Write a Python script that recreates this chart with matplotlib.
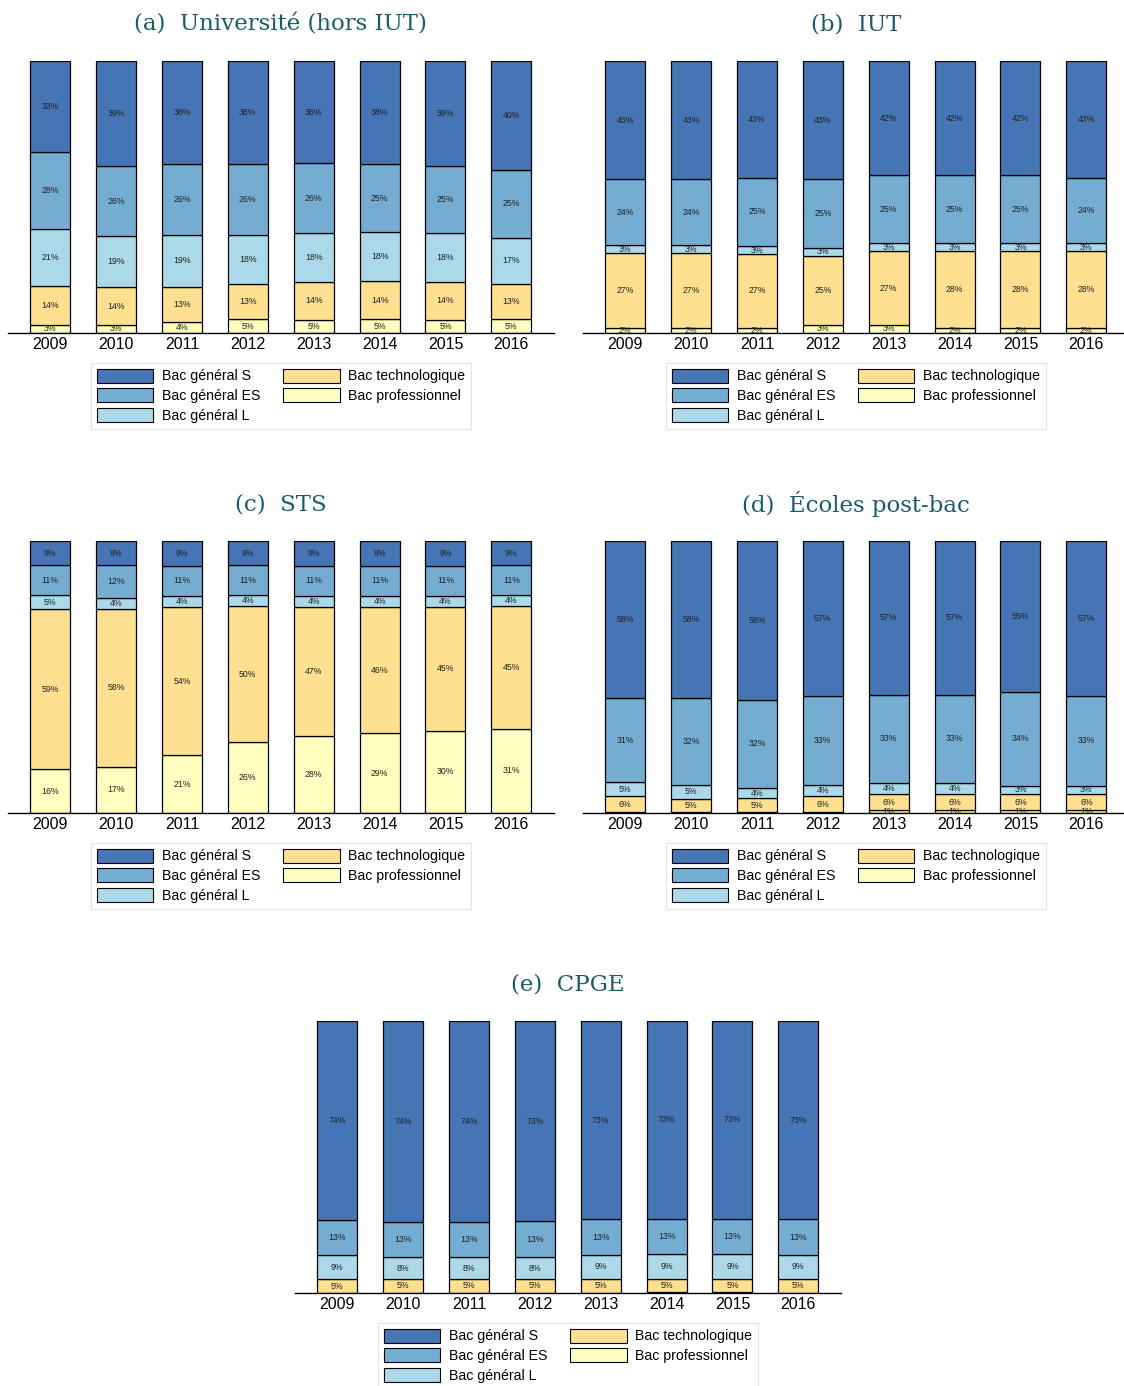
import numpy as np
import matplotlib
matplotlib.use("Agg")
import matplotlib.pyplot as plt
from matplotlib.patches import Patch

plt.rcParams["font.family"] = ["Liberation Sans", "DejaVu Sans"]

years = ["2009", "2010", "2011", "2012", "2013", "2014", "2015", "2016"]
series_labels = ["Bac général S", "Bac général ES", "Bac général L",
                 "Bac technologique", "Bac professionnel"]
colors = ["#4575b4", "#74add1", "#abd9e9", "#fee090", "#ffffbf"]

# (a) Université (hors IUT)
univ_s    = [33, 39, 38, 38, 38, 38, 39, 40]
univ_es   = [28, 26, 26, 26, 26, 25, 25, 25]
univ_l    = [21, 19, 19, 18, 18, 18, 18, 17]
univ_tech = [14, 14, 13, 13, 14, 14, 14, 13]
univ_pro  = [3, 3, 4, 5, 5, 5, 5, 5]

# (b) IUT
iut_s    = [43, 43, 43, 43, 42, 42, 42, 43]
iut_es   = [24, 24, 25, 25, 25, 25, 25, 24]
iut_l    = [3, 3, 3, 3, 3, 3, 3, 3]
iut_tech = [27, 27, 27, 25, 27, 28, 28, 28]
iut_pro  = [2, 2, 2, 3, 3, 2, 2, 2]

# (c) STS
sts_s    = [9, 9, 9, 9, 9, 9, 9, 9]
sts_es   = [11, 12, 11, 11, 11, 11, 11, 11]
sts_l    = [5, 4, 4, 4, 4, 4, 4, 4]
sts_tech = [59, 58, 54, 50, 47, 46, 45, 45]
sts_pro  = [16, 17, 21, 26, 28, 29, 30, 31]

# (d) Écoles post-bac
ecol_s    = [58, 58, 58, 57, 57, 57, 55, 57]
ecol_es   = [31, 32, 32, 33, 33, 33, 34, 33]
ecol_l    = [5, 5, 4, 4, 4, 4, 3, 3]
ecol_tech = [6, 5, 5, 6, 6, 6, 6, 6]
ecol_pro  = [0.3, 0.3, 0.3, 0.3, 1, 1, 1, 1]

# (e) CPGE
cpge_s    = [74, 74, 74, 73, 73, 73, 73, 73]
cpge_es   = [13, 13, 13, 13, 13, 13, 13, 13]
cpge_l    = [9, 8, 8, 8, 9, 9, 9, 9]
cpge_tech = [5, 5, 5, 5, 5, 5, 5, 5]
cpge_pro  = [0.1, 0.1, 0.1, 0.1, 0.1, 0.3, 0.3, 0.1]

W, H = 1124, 1386
fig = plt.figure(figsize=(W / 100, H / 100), dpi=100)
TITLE_COLOR = "#1a5b6b"


def px_axes(left, top, right, bottom):
    return fig.add_axes([left / W, 1 - bottom / H, (right - left) / W, (bottom - top) / H])


def draw_panel(box, title, s, es, l, tech, pro):
    ax = px_axes(*box)
    # stacked bottom-up: pro, tech, L, ES, S
    stack = [np.array(pro, float), np.array(tech, float), np.array(l, float),
             np.array(es, float), np.array(s, float)]
    cols = colors[::-1]
    total = sum(stack)
    x = np.arange(len(years))
    bottom = np.zeros(len(years))
    for vals, c in zip(stack, cols):
        h = vals / total * 100
        ax.bar(x, h, 0.607, bottom=bottom, color=c, edgecolor="black", linewidth=0.9)
        for xi, b, hi, v in zip(x, bottom, h, vals):
            if round(v) >= 1:
                ax.text(xi, b + hi / 2, f"{v:.0f}%", ha="center", va="center",
                        fontsize=6.3, color="#222222")
        bottom += h
    ax.set_xlim(-0.64, 7.64)
    ax.set_ylim(0, 100)
    ax.set_xticks(x)
    ax.set_xticklabels(years, fontsize=11.5)
    ax.tick_params(axis="x", length=0, pad=3)
    ax.set_yticks([])
    for side in ["top", "left", "right"]:
        ax.spines[side].set_visible(False)
    ax.spines["bottom"].set_linewidth(1.0)

    handles = [Patch(facecolor=c, edgecolor="black", linewidth=0.8) for c in colors]
    leg = ax.legend(handles, series_labels, loc="upper center",
                    bbox_to_anchor=(0.5, -0.084), ncol=2, fontsize=10.2,
                    handlelength=4.0, handleheight=1.15, handletextpad=0.6,
                    labelspacing=0.35, columnspacing=1.6, borderpad=0.4,
                    fancybox=False, framealpha=1)
    leg.get_frame().set_edgecolor("#e2e2e2")
    leg.get_frame().set_linewidth(0.8)

    cx = (box[0] + box[2]) / 2
    fig.text(cx / W, 1 - (box[1] - 37) / H, title, ha="center", va="center",
             fontsize=16.5, family="DejaVu Serif", color=TITLE_COLOR)
    return ax


draw_panel((8, 61, 553.5, 333), "(a)  Université (hors IUT)",
           univ_s, univ_es, univ_l, univ_tech, univ_pro)
draw_panel((583, 61, 1128.5, 333), "(b)  IUT",
           iut_s, iut_es, iut_l, iut_tech, iut_pro)
draw_panel((8, 541, 553.5, 813), "(c)  STS",
           sts_s, sts_es, sts_l, sts_tech, sts_pro)
draw_panel((583, 541, 1128.5, 813), "(d)  Écoles post-bac",
           ecol_s, ecol_es, ecol_l, ecol_tech, ecol_pro)
draw_panel((295, 1021, 840.5, 1293), "(e)  CPGE",
           cpge_s, cpge_es, cpge_l, cpge_tech, cpge_pro)

fig.savefig("out.png", dpi=100)
